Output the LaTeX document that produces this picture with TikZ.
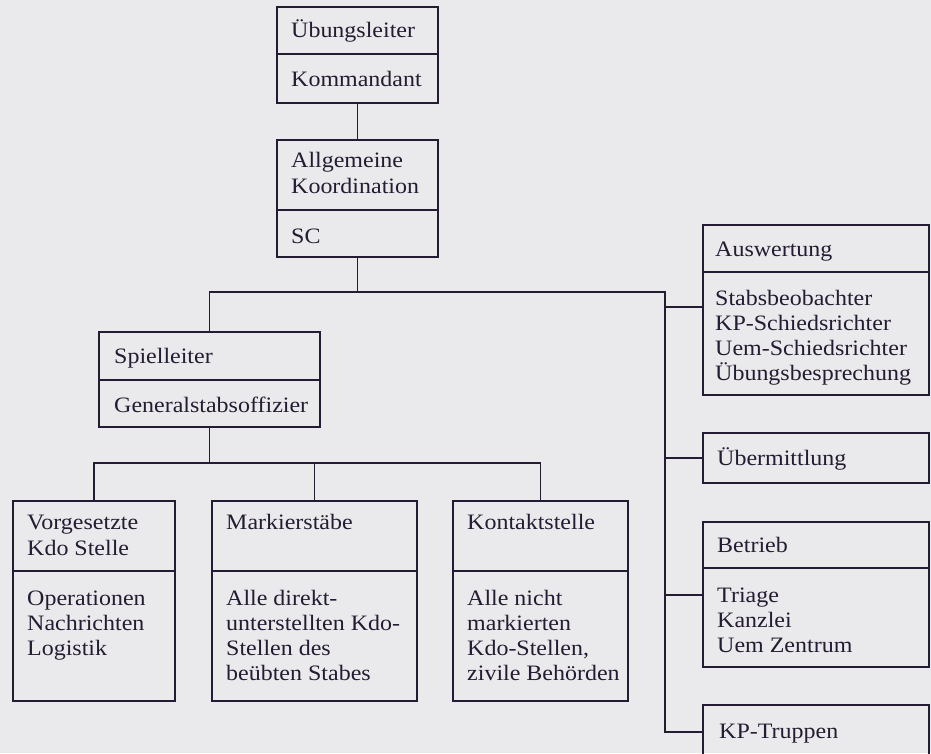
\documentclass[tikz,border=0pt]{standalone}
\usepackage{fontspec}
\setmainfont{Liberation Serif}[FakeStretch=1.09]
\definecolor{paper}{RGB}{234,233,235}
\definecolor{ink}{RGB}{36,28,50}
\newcommand\fs{\fontsize{22}{25.3}\selectfont}
\begin{document}
\begin{tikzpicture}[x=1pt,y=-1pt,
  part/.style={draw=ink, line width=1.4pt, inner sep=0pt, outer sep=0pt, anchor=north west},
  txt/.style={anchor=base west, inner sep=0pt, align=left, font=\fs, text=ink},
  link/.style={draw=ink, line width=1.4pt}]
\useasboundingbox (0,0) rectangle (931,753);
\fill[paper] (0,0) rectangle (931,753);
% boxes (upper and lower parts)
\node[part, minimum width=161pt, minimum height=47pt] (A1) at (277,7) {};
\node[part, minimum width=161pt, minimum height=49pt] (A2) at (277,54) {};
\node[part, minimum width=161pt, minimum height=70pt] (B1) at (277,140) {};
\node[part, minimum width=161pt, minimum height=47pt] (B2) at (277,210) {};
\node[part, minimum width=221pt, minimum height=48pt] (C1) at (99,332) {};
\node[part, minimum width=221pt, minimum height=47pt] (C2) at (99,380) {};
\node[part, minimum width=162pt, minimum height=70pt] (D1) at (13,501) {};
\node[part, minimum width=162pt, minimum height=130pt] (D2) at (13,571) {};
\node[part, minimum width=205pt, minimum height=70pt] (E1) at (212,501) {};
\node[part, minimum width=205pt, minimum height=130pt] (E2) at (212,571) {};
\node[part, minimum width=175pt, minimum height=70pt] (F1) at (453,501) {};
\node[part, minimum width=175pt, minimum height=130pt] (F2) at (453,571) {};
\node[part, minimum width=226pt, minimum height=47pt] (G1) at (703,225) {};
\node[part, minimum width=226pt, minimum height=123pt] (G2) at (703,272) {};
\node[part, minimum width=226pt, minimum height=50pt] (H) at (703,433) {};
\node[part, minimum width=226pt, minimum height=46pt] (I1) at (703,522) {};
\node[part, minimum width=226pt, minimum height=99pt] (I2) at (703,568) {};
\node[part, minimum width=226pt, minimum height=54pt] (J) at (703,705) {};
% texts (anchor = baseline of the last line)
\node[txt] (tA1) at (291,37) {Übungsleiter};
\node[txt] (tA2) at (291,86) {Kommandant};
\node[txt] (tB1) at (291,193) {Allgemeine\\Koordination};
\node[txt] (tB2) at (291,243) {SC};
\node[txt] (tC1) at (114,363) {Spielleiter};
\node[txt] (tC2) at (114,412) {Generalstabsoffizier};
\node[txt] (tD1) at (27,555) {Vorgesetzte\\Kdo Stelle};
\node[txt] (tD2) at (27,655.6) {Operationen\\Nachrichten\\Logistik};
\node[txt] (tE1) at (226,529) {Markierstäbe};
\node[txt] (tE2) at (226,680.9) {Alle direkt-\\unterstellten Kdo-\\Stellen des\\beübten Stabes};
\node[txt] (tF1) at (467,529) {Kontaktstelle};
\node[txt] (tF2) at (467,680.9) {Alle nicht\\markierten\\Kdo-Stellen,\\zivile Behörden};
\node[txt] (tG1) at (715,256) {Auswertung};
\node[txt] (tG2) at (715,380.9) {Stabsbeobachter\\KP-Schiedsrichter\\Uem-Schiedsrichter\\Übungsbesprechung};
\node[txt] (tH) at (717,465) {Übermittlung};
\node[txt] (tI1) at (717,552) {Betrieb};
\node[txt] (tI2) at (717,652.6) {Triage\\Kanzlei\\Uem Zentrum};
\node[txt] (tJ) at (719,738) {KP-Truppen};
% connectors
\coordinate (t) at (665,292);
\coordinate (s) at (209.5,463);
\coordinate (gk) at (665,307);
\coordinate (ik) at (665,595);
\draw[link] (A2.south) -- (B1.north);
\draw[link] (B2.south) -- (B2.south |- t);
\draw[link] (C1.north) |- (t) |- (J.west);
\draw[link] (gk) -- (gk -| G2.west);
\draw[link] (t |- H.west) -- (H.west);
\draw[link] (ik) -- (ik -| I2.west);
\draw[link] (C2.south) -- (s);
\draw[link] (D1.north) |- (F1.north |- s) -- (F1.north);
\draw[link] (E1.north) -- (E1.north |- s);
\end{tikzpicture}
\end{document}
